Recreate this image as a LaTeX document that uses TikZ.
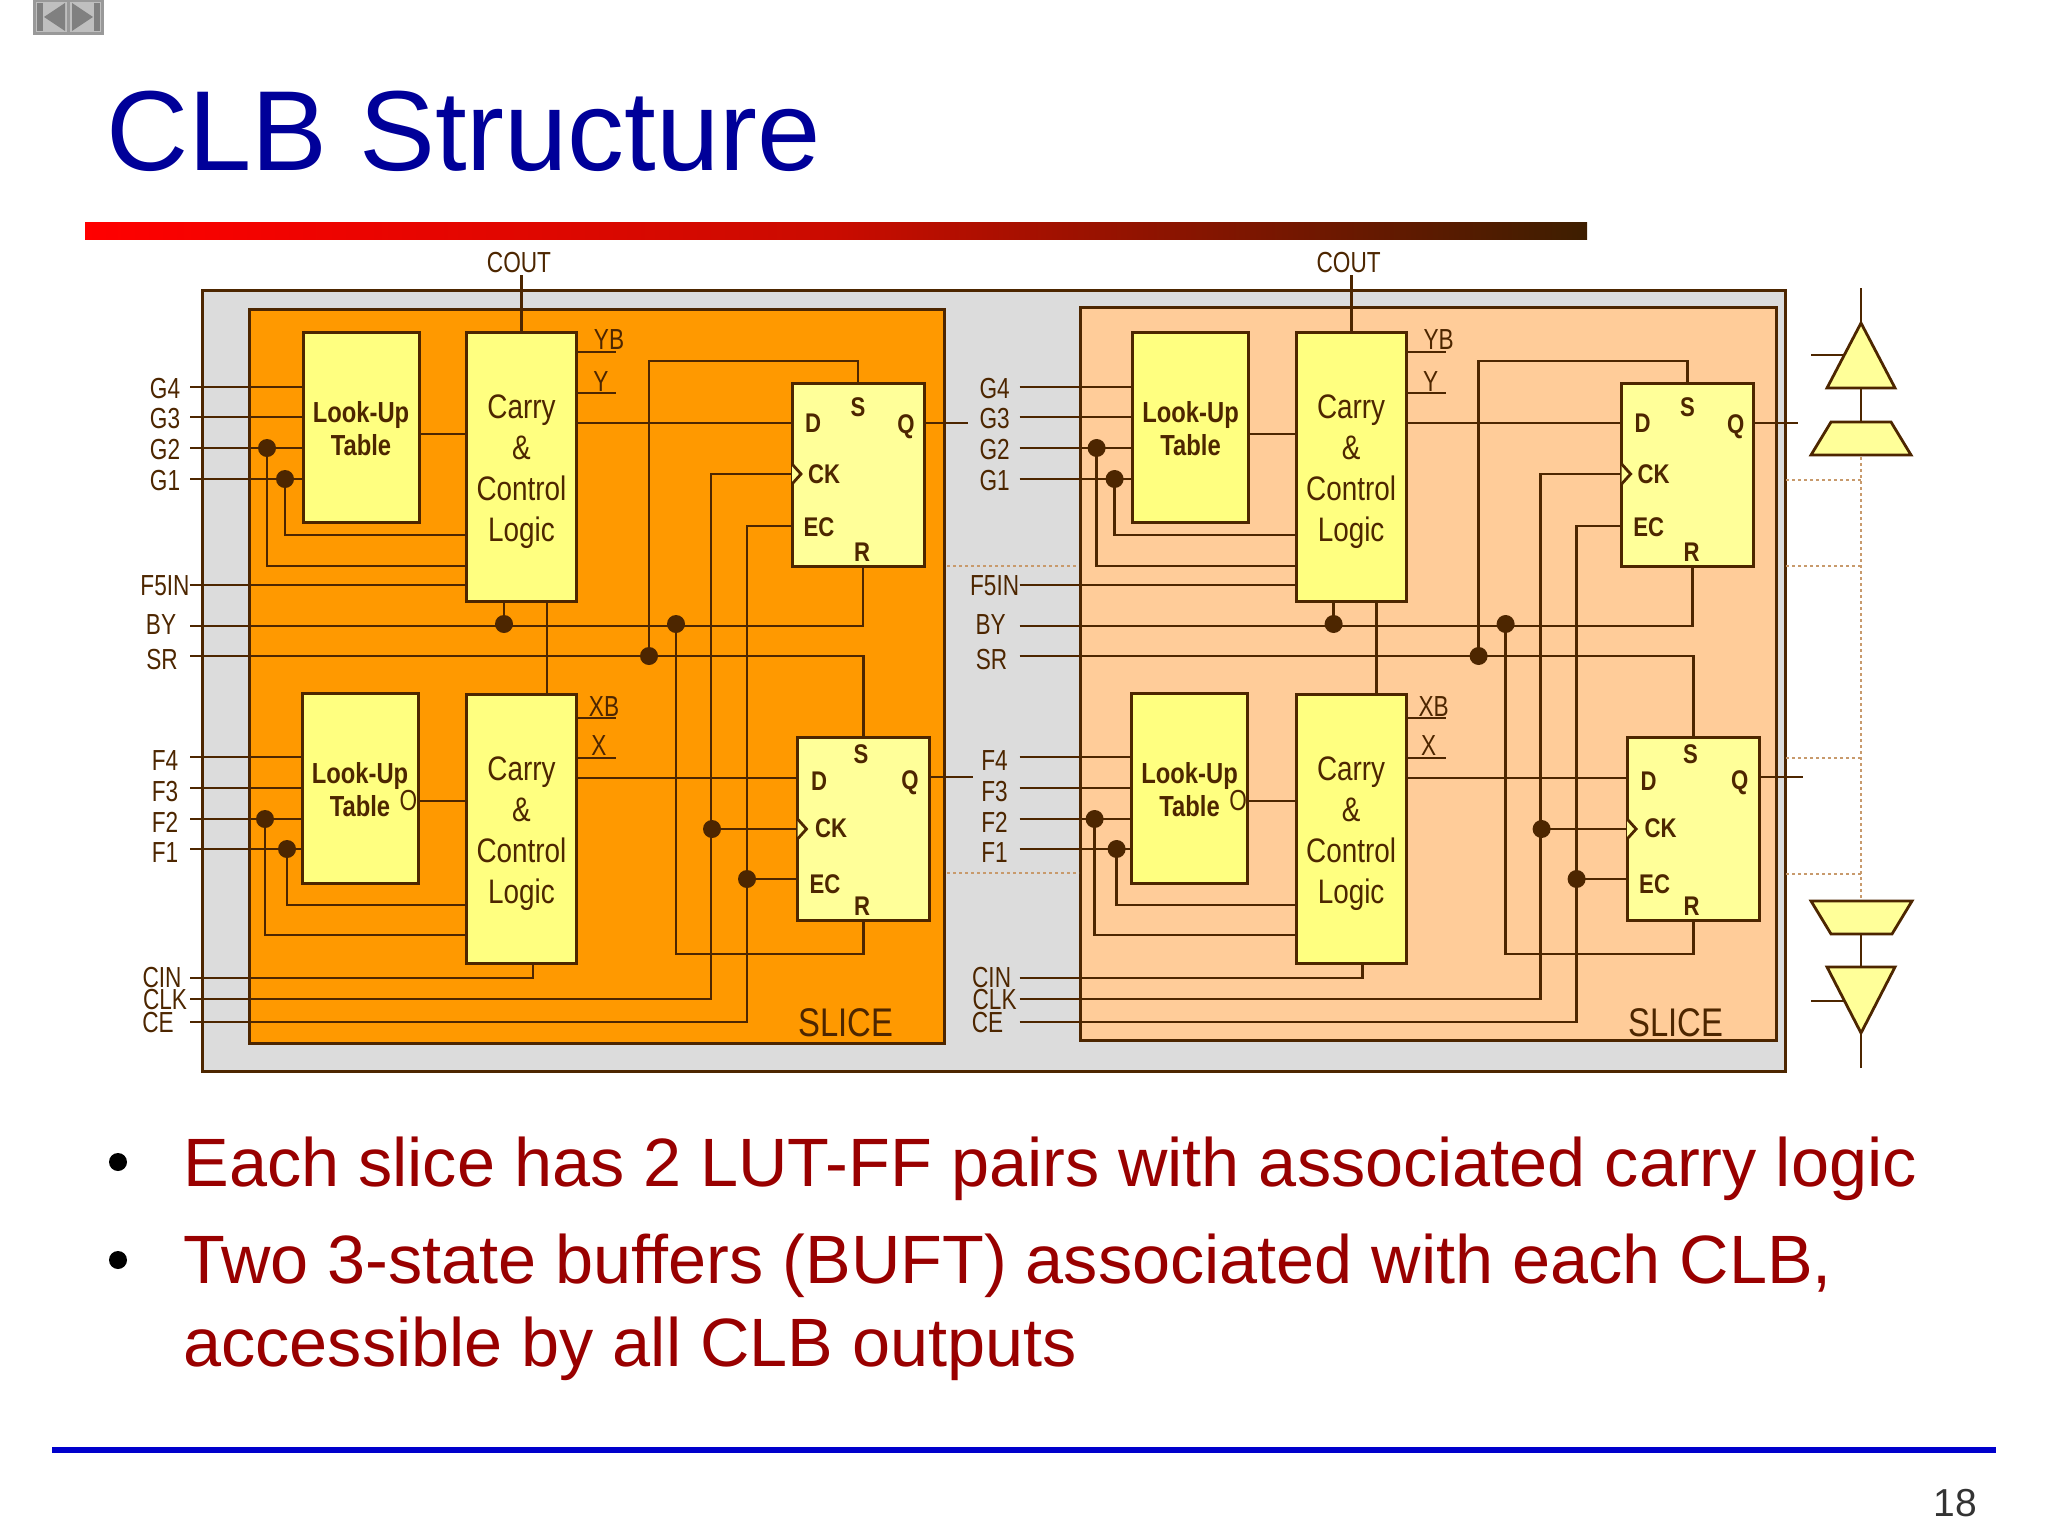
\documentclass[tikz,border=0pt]{standalone}
\usepackage{fontspec}
\setmainfont{Liberation Sans}
\newfontfamily\condfont[FakeStretch=0.82]{Liberation Sans}
\newfontfamily\pinfont[FakeStretch=0.78]{Liberation Sans}
\usetikzlibrary{positioning}
\definecolor{wirecol}{HTML}{4D2600}
\definecolor{clbgrey}{HTML}{DCDCDC}
\definecolor{sliceA}{HTML}{FF9900}
\definecolor{sliceB}{HTML}{FFCC99}
\definecolor{lutyel}{HTML}{FFFF80}
\definecolor{ffyel}{HTML}{FFFF99}
\definecolor{dotcol}{HTML}{C89A6C}
\definecolor{titleblue}{HTML}{000099}
\definecolor{bodyred}{HTML}{990000}

\begin{document}
\begin{tikzpicture}
  [
    x=0.5pt, y=-0.5pt,
    wire/.style={draw=wirecol, line width=1.4pt},
    dotted wire/.style={draw=dotcol, line width=1.4pt, dash pattern=on 1.4pt off 1.6pt},
    panel/.style={draw=wirecol, line width=1.5pt, inner sep=0, outer sep=0},
    lutbox/.style={draw=wirecol, fill=lutyel, line width=1.5pt, minimum width=58pt, minimum height=95pt,
      inner sep=0, outer sep=0, align=center, text=wirecol,
      font=\condfont\bfseries\fontsize{14.5}{16.5}\selectfont},
    carrybox/.style={draw=wirecol, fill=lutyel, line width=1.5pt, minimum width=55pt, minimum height=134.5pt,
      inner sep=0, outer sep=0, align=center, text=wirecol,
      font=\condfont\fontsize{17}{20.5}\selectfont},
    ffbox/.style={draw=wirecol, fill=ffyel, line width=1.5pt, minimum width=66pt, minimum height=91.5pt,
      inner sep=0, outer sep=0},
    fflab/.style={inner sep=0, text=wirecol, font=\condfont\bfseries\fontsize{13.5}{14}\selectfont},
    pinlab/.style={inner sep=0, text=wirecol, font=\pinfont\fontsize{14.5}{15}\selectfont},
    jdot/.style={circle, fill=wirecol, inner sep=0, minimum size=9pt},
    bodytext/.style={inner sep=0, anchor=base west, text=bodyred, font=\fontsize{34.2}{34.2}\selectfont},
    bullet/.style={circle, fill=black, inner sep=0, minimum size=9pt},
    buf/.style={draw=wirecol, fill=ffyel, line width=1.4pt, line join=miter}
  ]
  \useasboundingbox (0,0) rectangle (2048,1536);

  % slide furniture
  \fill [black!40] (33,0) rectangle (104,35);
  \fill [black!25] (36,2) rectangle (67,32);
  \fill [black!25] (70,2) rectangle (101,32);
  \fill [black!50] (37,3) rectangle (43,31);
  \fill [black!50] (94,3) rectangle (100,31);
  \fill [black!50] (44,17) -- (65,3) -- (65,31) -- cycle;
  \fill [black!50] (93,17) -- (72,3) -- (72,31) -- cycle;

  \node (title) at (106,170) [inner sep=0, anchor=base west, text=titleblue, font=\fontsize{56.9}{57}\selectfont] {CLB Structure};
  \shade [left color=red, right color=wirecol!80!black, middle color=red!70!wirecol] (85,222) rectangle (1587,239);

  % clb and the two slices
  \node (clb) at (993.5,680.5) [panel, fill=clbgrey, minimum width=791.5pt, minimum height=390.5pt] {};
  \node (panela) at (596.5,676) [panel, fill=sliceA, minimum width=347.5pt, minimum height=367pt] {};
  \node (panelb) at (1428,673.5) [panel, fill=sliceB, minimum width=348pt, minimum height=366.5pt] {};

  % dotted lines to the buffers
  \draw [dotted wire] (947,566) -- (1078,566);
  \draw [dotted wire] (947,873) -- (1079,873);
  \draw [dotted wire] (1786,480) -- (1861,480);
  \draw [dotted wire] (1786,566) -- (1861,566);
  \draw [dotted wire] (1786,758) -- (1861,758);
  \draw [dotted wire] (1786,874) -- (1861,874);

  \foreach \s/\sx in {a/0pt, b/414.8pt} {
  \begin{scope}[xshift=\sx]
    \node (\s-lutg) at (361,427) [lutbox] {\rule{0pt}{11.7pt}Look-Up\\Table};
    \node (\s-lutf) at (360,788.5) [lutbox] {\rule{0pt}{11.7pt}Look-Up\\Table};
    \node (\s-cy1) at (521.5,466.5) [carrybox] {\rule{0pt}{17.5pt}Carry\\\&\\Control\\Logic};
    \node (\s-cy2) at (521.5,828.5) [carrybox] {\rule{0pt}{17.5pt}Carry\\\&\\Control\\Logic};
    \node (\s-ff1) at (858,474.5) [ffbox] {};
    \node (\s-ff2) at (863.5,828.5) [ffbox] {};

    % input pins
    \foreach \n/\txt/\lx/\ly/\ry in {g4/G4/165/389/387, g3/G3/165/419/417, g2/G2/165/450/448, g1/G1/165/481/479,
        f5/F5IN/165/586/585, by/BY/161/625/626, sr/SR/162/660/656,
        f4/F4/165/761/757, f3/F3/165/792/788, f2/F2/165/822/819, f1/F1/165/853/849,
        cin/CIN/162/978/978, clk/CLK/165/1000/999, ce/CE/158/1023/1022} {
      \coordinate (\s-\n) at (190,\ry);
      \node (\s-l\n) at (\lx,\ly) [pinlab] {\txt};
    }

    % lut inputs
    \foreach \n in {g4,g3,g2,g1} \draw [wire] (\s-\n) -- (\s-\n -| \s-lutg.west);
    \foreach \n in {f4,f3,f2,f1} \draw [wire] (\s-\n) -- (\s-\n -| \s-lutf.west);
    \node (\s-dg2) at (267,448) [jdot] {};
    \node (\s-dg1) at (285,479) [jdot] {};
    \node (\s-df2) at (265,819) [jdot] {};
    \node (\s-df1) at (287,849) [jdot] {};
    \draw [wire] (\s-dg2.center) |- (466,566);
    \draw [wire] (\s-dg1.center) |- (466,535);
    \draw [wire] (\s-df2.center) |- (466,935);
    \draw [wire] (\s-df1.center) |- (466,905);
    \draw [wire] (\s-f5) -- (\s-f5 -| \s-cy1.west);
    \draw [wire] (\s-lutg.east |- 0,434) -- (\s-cy1.west |- 0,434);
    \draw [wire] (\s-lutf.east |- 0,801) -- (\s-cy2.west |- 0,801);
    \node (\s-lo) at (408.5,801) [pinlab] {O};

    % carry outputs
    \coordinate (\s-cout) at (521.5,275);
    \node (\s-lcout) at (519,263) [pinlab] {COUT};
    \draw [wire] (\s-cout) -- (\s-cy1.north);
    \foreach \n/\txt/\lx/\ly/\ry in {yb/YB/609/340/352, y/Y/601/382/393, xb/XB/604/707/718, x/X/599/746/758} {
      \coordinate (\s-\n) at (616,\ry);
      \node (\s-l\n) at (\lx,\ly) [pinlab] {\txt};
    }
    \draw [wire] (\s-cy1.east |- \s-yb) -- (\s-yb);
    \draw [wire] (\s-cy1.east |- \s-y) -- (\s-y);
    \draw [wire] (\s-cy2.east |- \s-xb) -- (\s-xb);
    \draw [wire] (\s-cy2.east |- \s-x) -- (\s-x);
    \draw [wire] (\s-cy1.south -| 547,0) -- (\s-cy2.north -| 547,0);
    \draw [wire] (\s-cin) -| (\s-cy2.south -| 533,0);

    % flip-flop 1
    \coordinate (\s-d1) at (0,423);
    \coordinate (\s-ck1) at (\s-ff1.west |- 0,474);
    \coordinate (\s-ec1) at (\s-ff1.west |- 0,526);
    \coordinate (\s-q1) at (968,423);
    \node (\s-dby) at (676,624) [jdot] {};
    \node (\s-dcy) at (504,624) [jdot] {};
    \node (\s-dsr) at (649,656) [jdot] {};
    \draw [wire] (\s-cy1.east |- \s-d1) -- (\s-ff1.west |- \s-d1);
    \draw [wire] (\s-ff1.east |- \s-q1) -- (\s-q1);
    \draw [wire] (\s-by) -| ([xshift=2.5pt]\s-ff1.south);
    \draw [wire] (\s-cy1.south -| \s-dcy) -- (\s-dcy.center);
    \draw [wire] (\s-dsr.center) |- (\s-ff1.north |- 0,361) -- (\s-ff1.north);
    \draw [wire] (\s-clk) -| (711,474) -- (\s-ck1);
    \draw [wire] (\s-ce) -| (747,526) -- (\s-ec1);
    \draw [wire, fill=ffyel] ([yshift=5pt]\s-ck1) -- ++(9,10) -- ++(-9,10);

    % flip-flop 2
    \coordinate (\s-d2) at (0,778);
    \coordinate (\s-ck2) at (\s-ff2.west |- 0,829);
    \coordinate (\s-ec2) at (\s-ff2.west |- 0,879);
    \coordinate (\s-q2) at (973,777);
    \node (\s-dclk) at (712,829) [jdot] {};
    \node (\s-dce) at (747,879) [jdot] {};
    \draw [wire] (\s-cy2.east |- \s-d2) -- (\s-ff2.west |- \s-d2);
    \draw [wire] (\s-ff2.east |- \s-q2) -- (\s-q2);
    \draw [wire] (\s-sr) -| (\s-ff2.north);
    \draw [wire] (\s-dby.center) |- (\s-ff2.south |- 0,954) -- (\s-ff2.south);
    \draw [wire] (\s-dclk.center) -- (\s-ck2);
    \draw [wire] (\s-dce.center) -- (\s-ec2);
    \draw [wire, fill=ffyel] ([yshift=5pt]\s-ck2) -- ++(9,10) -- ++(-9,10);

    % flip-flop labels
    \node (\s-fd1) at (813,423) [fflab] {D};
    \node (\s-fs1) at (858,407) [fflab] {S};
    \node (\s-fq1) at (906,427) [fflab] {Q};
    \node (\s-fc1) at (824,474) [fflab] {CK};
    \node (\s-fe1) at (819,527) [fflab] {EC};
    \node (\s-fr1) at (862,552) [fflab] {R};
    \node (\s-fd2) at (819,781) [fflab] {D};
    \node (\s-fs2) at (861,754) [fflab] {S};
    \node (\s-fq2) at (910,783) [fflab] {Q};
    \node (\s-fc2) at (831,828) [fflab] {CK};
    \node (\s-fe2) at (825,884) [fflab] {EC};
    \node (\s-fr2) at (862,906) [fflab] {R};

    \node (\s-slice) at (846,1023) [inner sep=0, text=wirecol, font=\condfont\fontsize{20}{20}\selectfont] {SLICE};
  \end{scope}
  }

  % 3-state buffers
  \draw [dotted wire] (1861,457) -- (1861,899);
  \coordinate (t1top) at (1861,288);
  \coordinate (t1in) at (1811,355);
  \coordinate (t2bot) at (1861,1068);
  \coordinate (t2in) at (1811,1001);
  \draw [wire] (t1top) -- (1861,323);
  \draw [wire] (t1in) -- (1844,355);
  \draw [wire] (1861,388) -- (1861,422);
  \draw [wire] (t2bot) -- (1861,1033);
  \draw [wire] (t2in) -- (1844,1001);
  \draw [wire] (1861,934) -- (1861,967);
  \draw [buf] (1861,323) -- (1895,388) -- (1827,388) -- cycle;
  \draw [buf] (1831,422) -- (1891,422) -- (1911,455) -- (1811,455) -- cycle;
  \draw [buf] (1811,901) -- (1912,901) -- (1892,934) -- (1831,934) -- cycle;
  \draw [buf] (1827,967) -- (1895,967) -- (1861,1033) -- cycle;

  % bullets
  \node (b1) at (118,1162) [bullet] {};
  \node (b2) at (118,1260) [bullet] {};
  \node (t1) at (183,1186) [bodytext] {Each slice has 2 LUT-FF pairs with associated carry logic};
  \node (t2) at (183,1283.5) [bodytext] {Two 3-state buffers (BUFT) associated with each CLB,};
  \node (t3) at (183,1366.5) [bodytext] {accessible by all CLB outputs};

  \fill [blue!80!black] (52,1447) rectangle (1996,1453);
  \node (page) at (1955,1503) [inner sep=0, text=black!80, font=\fontsize{19.5}{20}\selectfont] {18};
\end{tikzpicture}
\end{document}
